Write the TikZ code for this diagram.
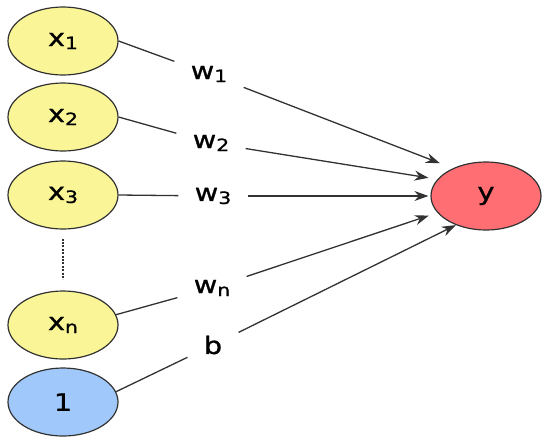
\documentclass[tikz,border=0pt]{standalone}
\usepackage{fontspec}
\setmainfont{DejaVu Sans}[FakeStretch=1.2, FakeBold=1]
\usetikzlibrary{positioning,calc,arrows.meta,shapes.geometric}
\definecolor{inputcolor}{RGB}{250, 245, 150}
\definecolor{biascolor}{RGB}{160, 200, 250}
\definecolor{outputcolor}{RGB}{255, 110, 115}
\definecolor{linecolor}{RGB}{50, 50, 50}
\newcommand{\idx}[1]{\raisebox{-1.5pt}{\fontsize{8.5}{9}\selectfont #1}}

\begin{document}
\begin{tikzpicture}[
    x=0.5pt, y=-0.5pt,
    font=\fontsize{12}{14}\selectfont,
    neuron/.style={ellipse, draw=linecolor, line width=0.6pt, minimum width=55pt, minimum height=34pt, inner sep=0pt},
    weight/.style={rectangle, inner xsep=8pt, inner ysep=6pt},
    link/.style={draw=linecolor, line width=0.65pt},
    arrow/.style={link, -{Stealth[length=7pt,width=5pt]}}
]
\useasboundingbox (0,0) rectangle (550,445);

% Inputs
\node[neuron, fill=inputcolor] (x1) at (63,41) {x\idx{1}};
\node[neuron, fill=inputcolor] (x2) at (63,117) {x\idx{2}};
\node[neuron, fill=inputcolor] (x3) at (63,195) {x\idx{3}};
\node[neuron, fill=inputcolor] (xn) at (63,325) {x\idx{n}};
\node[neuron, fill=biascolor] (one) at (63,402) {1};

% Output
\node[neuron, fill=outputcolor] (y) at (486,196) {y};

% Weights
\node[weight] (w1) at (209,74) {w\idx{1}};
\node[weight] (w2) at (211,143) {w\idx{2}};
\node[weight] (w3) at (213,196) {w\idx{3}};
\node[weight] (wn) at (212,288) {w\idx{n}};
\node[weight] (b) at (213,345) {b};

% Dots between x3 and xn
\draw[linecolor, line width=1.3pt, dash pattern=on 1pt off 0.7pt, shorten <=4.5pt, shorten >=5.5pt] (x3) -- (xn);

% Connections
\draw[link] (x1.east) -- (w1);
\draw[link] (x2.east) -- (w2);
\draw[link] (x3.east) -- (w3);
\draw[link] (xn.11) -- (wn);
\draw[link] (one.11) -- (b);
\draw[arrow, shorten >=7pt] (w1) -- (y.140);
\draw[arrow, shorten >=4.5pt] (w2) -- (y.161);
\draw[arrow, shorten >=1pt] (w3) -- (y.west);
\draw[arrow, shorten >=4.5pt] (wn) -- (y.199);
\draw[arrow] (b) -- (y.224);

\end{tikzpicture}
\end{document}
